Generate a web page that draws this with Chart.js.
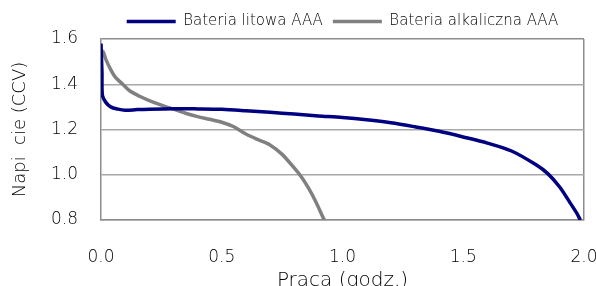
<!DOCTYPE html>
<html>
<head>
<meta charset="utf-8">
<script src="https://cdn.jsdelivr.net/npm/chart.js@4"></script>
<style>
  html, body { margin: 0; padding: 0; background: #fff; }
  #wrap { width: 596px; height: 286px; }
</style>
</head>
<body>
<div id="wrap"><canvas id="chart"></canvas></div>
<script>
const seriesNames = ["Bateria litowa AAA", "Bateria alkaliczna AAA"];

// lithium cell: hours / volts
const lithHours = [0, 0.004, 0.006, 0.02, 0.04, 0.07, 0.1, 0.15, 0.2, 0.3, 0.4, 0.5, 0.6, 0.7, 0.8, 0.9,
    1.0, 1.1, 1.2, 1.3, 1.4, 1.5, 1.6, 1.7, 1.8, 1.85, 1.9, 1.94, 1.97, 1.985];
const lithVolts = [1.58, 1.45, 1.35, 1.32, 1.30, 1.29, 1.285, 1.288, 1.29, 1.292, 1.291, 1.289, 1.283, 1.276, 1.268, 1.26,
    1.253, 1.243, 1.230, 1.212, 1.192, 1.167, 1.140, 1.105, 1.045, 1.005, 0.945, 0.88, 0.83, 0.80];

// alkaline cell
const alkHours = [0, 0.008, 0.02, 0.04, 0.06, 0.09, 0.12, 0.16, 0.2, 0.25, 0.3, 0.35, 0.4, 0.45, 0.5,
    0.55, 0.6, 0.65, 0.7, 0.75, 0.8, 0.83, 0.86, 0.89, 0.92, 0.925];
const alkVolts = [1.52, 1.545, 1.51, 1.465, 1.43, 1.40, 1.37, 1.347, 1.328, 1.308, 1.29, 1.272, 1.257, 1.245, 1.232,
    1.212, 1.18, 1.155, 1.132, 1.09, 1.03, 0.99, 0.94, 0.88, 0.81, 0.80];

const xTicks = [0, 0.5, 1.0, 1.5, 2.0];
const yTicks = [0.8, 1.0, 1.2, 1.4, 1.6];

const pts = (xs, ys) => xs.map((x, i) => ({ x: x, y: ys[i] }));

const font = "'DejaVu Sans', sans-serif";
const gridGray = "#a8a8a8";
const frameGray = "#8c8c8c";

new Chart(document.getElementById("chart"), {
    type: "line",
    data: {
        datasets: [
            {
                label: seriesNames[0],
                data: pts(lithHours, lithVolts),
                borderColor: "#000080",
                backgroundColor: "#000080",
                borderWidth: 3.5,
                pointRadius: 0,
                tension: 0.3
            },
            {
                label: seriesNames[1],
                data: pts(alkHours, alkVolts),
                borderColor: "#808080",
                backgroundColor: "#808080",
                borderWidth: 3.5,
                pointRadius: 0,
                tension: 0.3
            }
        ]
    },
    options: {
        responsive: true,
        maintainAspectRatio: false,
        animation: false,
        layout: { padding: { top: 4, left: 0, right: 0, bottom: 0 } },
        plugins: {
            tooltip: { enabled: false },
            legend: {
                position: "top",
                fullSize: false,
                labels: {
                    usePointStyle: true,
                    pointStyle: "line",
                    pointStyleWidth: 49,
                    color: "#000",
                    padding: 10,
                    font: { family: font, size: 15, weight: 200 }
                }
            }
        },
        scales: {
            x: {
                type: "linear",
                min: 0,
                max: 2,
                afterBuildTicks: s => { s.ticks = xTicks.map(v => ({ value: v })); },
                afterFit: s => { s.height = 66; s.paddingLeft = 0; s.paddingRight = 12; },
                ticks: {
                    padding: 27,
                    maxRotation: 0,
                    color: "#000",
                    font: { family: font, size: 17, weight: 200 },
                    callback: v => v.toFixed(1)
                },
                grid: {
                    drawTicks: false,
                    lineWidth: 1.5,
                    color: c => (c.index === xTicks.length - 1 ? frameGray : "rgba(0,0,0,0)")
                },
                border: { color: frameGray, width: 1.5 },
                title: {
                    display: true,
                    text: "Praca (godz.)",
                    color: "#000",
                    font: { family: font, size: 20, weight: 200, lineHeight: 0.5 },
                    padding: 0
                }
            },
            y: {
                min: 0.8,
                max: 1.6,
                afterBuildTicks: s => { s.ticks = yTicks.map(v => ({ value: v })); },
                afterFit: s => { s.width = 101; },
                ticks: {
                    padding: 23,
                    color: "#000",
                    font: { family: font, size: 17, weight: 200 },
                    callback: v => v.toFixed(1)
                },
                grid: {
                    drawTicks: false,
                    lineWidth: 1.5,
                    color: c => (c.index === yTicks.length - 1 ? frameGray : gridGray)
                },
                border: { color: frameGray, width: 1.5 },
                title: {
                    display: true,
                    text: "Napi  cie (CCV)",
                    color: "#000",
                    font: { family: font, size: 18, weight: 200, lineHeight: 1 },
                    padding: { top: 11, bottom: 0 }
                }
            }
        }
    }
});
</script>
</body>
</html>
